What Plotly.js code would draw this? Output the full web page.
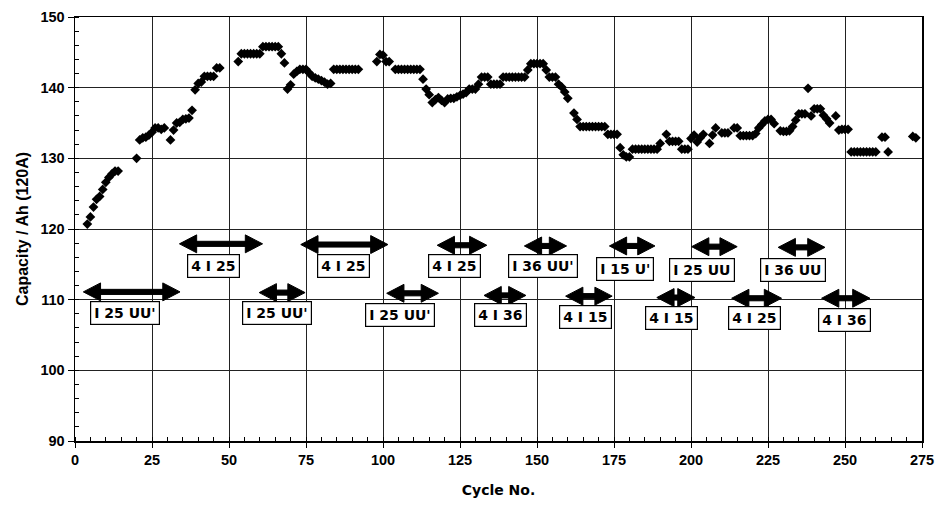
<!DOCTYPE html>
<html><head><meta charset="utf-8">
<script src="https://cdn.plot.ly/plotly-3.0.1.min.js"></script>
<style>html,body{margin:0;padding:0;background:#fff}#chart{width:937px;height:508px}</style>
</head><body><div id="chart"></div>
<script>
const cycles = [4,5,6,7,8,9,10,11,12,13,14,
 20,21,22,23,24,25,26,27,28,29,31,32,33,34,35,36,37,38,39,40,41,42,43,44,45,46,47,
 53,54,55,56,57,58,59,60,61,62,63,64,65,66,67,68,69,70,71,72,73,74,75,76,77,78,79,80,81,82,83,
 84,85,86,87,88,89,90,91,92,98,99,100,101,102,104,105,106,107,108,109,110,111,112,
 113,114,115,116,117,118,119,120,121,122,123,124,125,126,127,128,129,130,131,132,133,134,
 135,136,137,138,139,140,141,142,143,144,145,146,147,148,149,150,151,152,153,154,155,156,
 157,158,159,160,162,163,164,165,166,167,168,169,170,171,172,173,174,175,176,177,178,179,180,
 181,182,183,184,185,186,187,188,189,190,192,193,194,195,196,197,198,199,200,201,202,203,204,
 206,207,208,210,211,212,214,215,216,217,218,219,220,221,222,223,224,225,226,227,229,230,231,
 232,233,234,235,236,237,238,239,240,241,242,243,244,245,247,248,249,250,251,
 252,253,254,255,256,257,258,259,260,262,263,264,272,273];
const capacity = [120.7,121.7,123.1,124.2,124.6,125.6,126.6,127.3,127.8,128.2,128.2,
 130.0,132.6,132.9,133.0,133.3,133.7,134.3,134.3,134.1,134.3,132.6,134.0,135.0,135.1,135.5,135.6,135.7,136.8,139.7,140.6,140.8,141.6,141.6,141.6,141.6,142.8,142.8,
 143.7,144.8,144.8,144.8,144.8,144.8,144.8,144.8,145.8,145.8,145.8,145.8,145.8,145.8,144.8,143.5,139.8,140.4,141.9,142.3,142.6,142.6,142.6,142.1,141.6,141.4,141.2,141.0,140.8,140.5,140.6,
 142.6,142.6,142.6,142.6,142.6,142.6,142.6,142.6,142.6,143.7,144.7,144.6,143.7,143.7,142.6,142.6,142.6,142.6,142.6,142.6,142.6,142.6,142.6,
 141.2,139.8,139.0,137.9,138.3,138.6,138.2,137.9,138.4,138.5,138.5,138.7,138.9,139.1,139.3,139.8,139.8,139.8,140.5,141.5,141.5,141.5,
 140.5,140.5,140.5,140.5,141.5,141.5,141.5,141.5,141.5,141.5,141.5,141.5,142.5,143.4,143.4,143.4,143.4,143.4,142.5,141.5,141.5,141.5,
 140.5,140.1,139.4,138.5,136.4,135.5,134.5,134.5,134.5,134.5,134.5,134.5,134.5,134.5,134.5,133.4,133.4,133.4,133.4,131.5,130.5,130.2,130.2,
 131.3,131.3,131.3,131.3,131.3,131.3,131.3,131.3,131.3,132.1,133.4,132.4,132.4,132.4,132.4,131.3,131.3,131.3,132.8,133.3,132.3,132.9,133.4,
 132.1,133.3,134.3,133.6,133.6,133.6,134.3,134.3,133.2,133.2,133.2,133.2,133.2,133.5,134.3,134.8,135.3,135.5,135.5,134.9,133.9,133.8,133.8,
 133.9,134.5,135.4,136.3,136.3,136.3,139.9,136.0,137.0,137.0,137.0,136.1,135.6,135.0,136.0,134.0,134.1,134.1,134.1,
 130.9,130.9,130.9,130.9,130.9,130.9,130.9,130.9,130.9,133.0,133.0,130.9,133.1,132.9];

const xTicks = [0,25,50,75,100,125,150,175,200,225,250,275];
const yTicks = [90,100,110,120,130,140,150];

const arrowStart = [2.7,33.9,73.3,59.8,101.2,117.6,145.9,173.5,132.8,159.3,200.2,228.3,188.9,213.2,242.4];
const arrowEnd   = [34.1,60.9,101.6,74.7,118.0,133.7,159.6,188.3,146.4,174.4,215.0,243.5,201.3,229.4,258.1];
const arrowLevel = [111.1,117.9,117.8,111.0,110.9,117.7,117.6,117.6,110.6,110.5,117.5,117.4,110.3,110.2,110.2];
const labelText = ["I 25 UU'","4 I 25","4 I 25","I 25 UU'","I 25 UU'","4 I 25","I 36 UU'","I 15 U'","4 I 36","4 I 15","I 25 UU","I 36 UU","4 I 15","4 I 25","4 I 36"];
const labelX = [16.1,45.1,87.3,65.6,105.5,123.1,151.8,178.6,138.0,165.7,203.7,233.0,193.8,220.6,249.7];
const labelY = [108.1,114.7,114.7,108.1,107.9,114.7,114.7,114.4,107.8,107.6,114.2,114.2,107.4,107.4,107.1];

const HEAD_LEN = 5.6, HEAD_HALF = 1.27, SHAFT_HALF = 0.36;
const shapes = [];
for (let i = 0; i < arrowStart.length; i++) {
  const a = arrowStart[i], b = arrowEnd[i], y = arrowLevel[i];
  shapes.push({type:'rect', xref:'x', yref:'y', x0:a+HEAD_LEN-0.5, x1:b-HEAD_LEN+0.5, y0:y-SHAFT_HALF, y1:y+SHAFT_HALF,
    fillcolor:'#000', line:{color:'#000', width:1}, layer:'above'});
  const p = `M${a},${y} L${a+HEAD_LEN},${y+HEAD_HALF} L${a+HEAD_LEN},${y-HEAD_HALF} Z ` +
            `M${b},${y} L${b-HEAD_LEN},${y+HEAD_HALF} L${b-HEAD_LEN},${y-HEAD_HALF} Z`;
  shapes.push({type:'path', xref:'x', yref:'y', path:p, fillcolor:'#000', line:{color:'#000', width:1}, layer:'above'});
}
const annotations = labelText.map((t, i) => ({
  x: labelX[i], y: labelY[i], xref:'x', yref:'y', text: t, showarrow:false,
  font:{family:'DejaVu Sans', size:14, color:'#000', weight:'bold'},
  bgcolor:'#fff', bordercolor:'#000', borderwidth:1.2, borderpad:3
}));

const tickFont = {family:'Liberation Sans, Arial, sans-serif', size:14.5, color:'#000', weight:'bold'};
const xTitleFont = {family:'DejaVu Sans', size:14, color:'#000', weight:'bold'};
const yTitleFont = {family:'Liberation Sans, Arial, sans-serif', size:16, color:'#000', weight:'bold'};

Plotly.newPlot('chart', [{
  x: cycles, y: capacity, type:'scatter', mode:'markers',
  marker:{symbol:'diamond', size:7.5, color:'#000'}, hoverinfo:'skip'
}], {
  width:937, height:508,
  margin:{l:75, r:15, t:17, b:67},
  paper_bgcolor:'#fff', plot_bgcolor:'#fff',
  showlegend:false,
  xaxis:{range:[0,275], tickvals:xTicks, ticktext:xTicks.map(String), showgrid:true, gridcolor:'#222', gridwidth:1,
    zeroline:false, showline:true, mirror:true, linecolor:'#000', linewidth:1.5,
    ticks:'outside', ticklen:5, tickcolor:'#000', tickfont:tickFont,
    minor:{dtick:5, tick0:0, ticks:'inside', ticklen:4, tickcolor:'#000', showgrid:false},
    title:{text:'Cycle No.', font:xTitleFont, standoff:18}},
  yaxis:{range:[90,150], tickvals:yTicks, ticktext:yTicks.map(String), showgrid:true, gridcolor:'#222', gridwidth:1,
    zeroline:false, showline:true, mirror:true, linecolor:'#000', linewidth:1.5,
    ticks:'outside', ticklen:6, tickcolor:'#000', tickfont:tickFont,
    minor:{dtick:2, tick0:90, ticks:'inside', ticklen:4, tickcolor:'#000', showgrid:false},
    title:{text:'Capacity / Ah (120A)', font:yTitleFont, standoff:8}},
  shapes: shapes,
  annotations: annotations
}, {staticPlot:true});
</script>
</body></html>
